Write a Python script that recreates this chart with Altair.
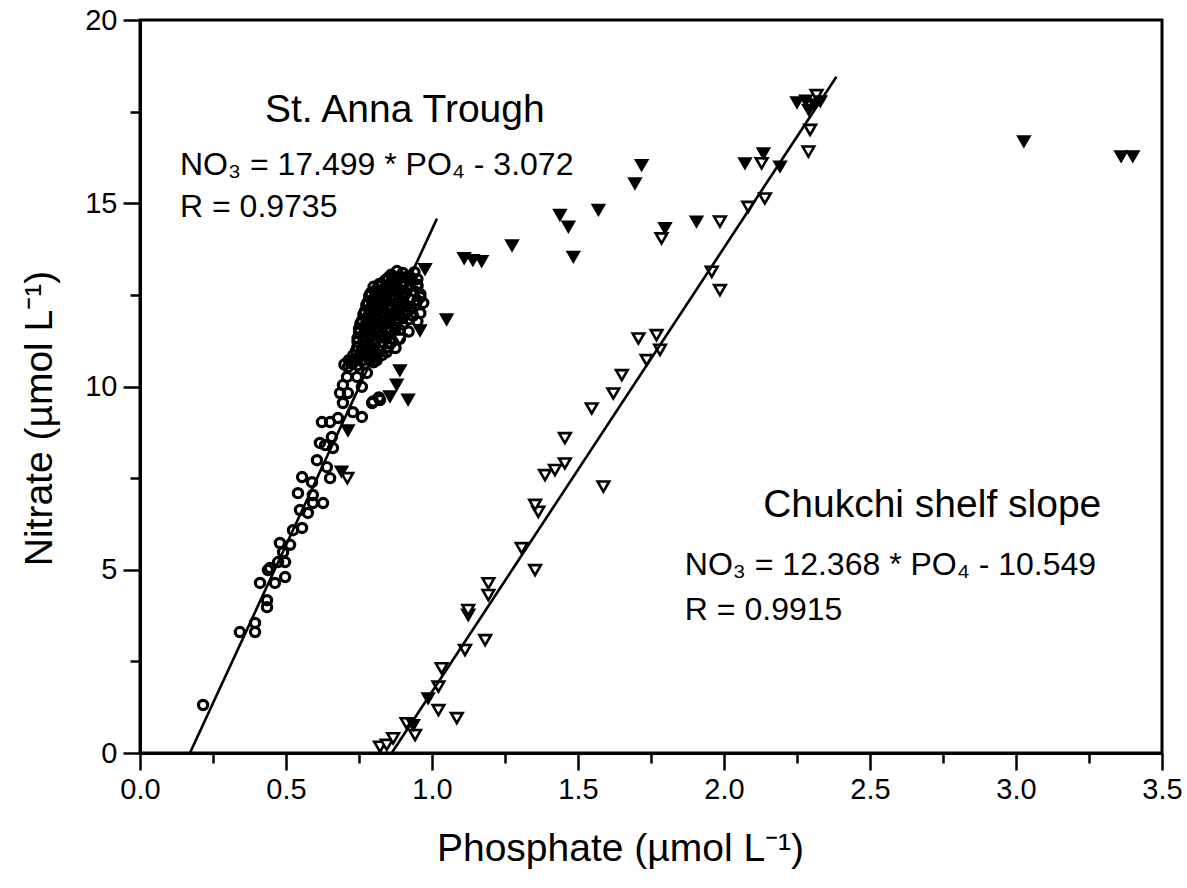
import altair as alt
import pandas as pd

FONT = "Liberation Sans"

# ---------------- data ----------------
# St. Anna Trough (open circles)
anna_x = [0.216, 0.342, 0.394, 0.394, 0.411, 0.435, 0.435, 0.438, 0.462, 0.473,
          0.497, 0.497, 0.479, 0.514, 0.490, 0.524, 0.555, 0.548, 0.575, 0.592,
          0.627, 0.541, 0.592, 0.555, 0.589, 0.606, 0.634, 0.661, 0.640, 0.651,
          0.445, 0.616, 0.657, 0.623, 0.651, 0.678, 0.729, 0.760, 0.795, 0.822,
          0.695, 0.685, 0.712, 0.695, 0.709, 0.743, 0.760, 0.712, 0.777, 0.729,
          0.798, 0.818, 0.925, 0.900]
anna_y = [1.31, 3.30, 3.55, 3.30, 4.64, 4.17, 3.98, 4.99, 4.64, 5.21,
          4.80, 5.21, 5.73, 5.68, 5.48, 6.08, 6.14, 6.63, 6.55, 6.82,
          6.82, 7.09, 7.04, 7.53, 7.39, 7.99, 8.40, 8.32, 7.80, 7.50,
          5.05, 8.46, 8.62, 9.03, 9.03, 9.14, 9.30, 9.17, 9.55, 9.63,
          9.55, 9.82, 9.82, 10.04, 10.26, 10.26, 9.99, 10.53, 10.37, 10.64,
          9.59, 9.70, 12.38, 12.30]
# dense part of the St. Anna Trough cloud
cluster_x = [0.86, 0.88, 0.90, 0.92, 0.94,
             0.82, 0.84, 0.86, 0.88, 0.90, 0.93, 0.95,
             0.79, 0.81, 0.83, 0.85, 0.87, 0.89, 0.91, 0.94, 0.96,
             0.78, 0.80, 0.82, 0.84, 0.86, 0.88, 0.90, 0.95, 0.97,
             0.77, 0.79, 0.81, 0.83, 0.85, 0.87, 0.89, 0.91, 0.93, 0.96,
             0.76, 0.78, 0.80, 0.82, 0.84, 0.86, 0.88, 0.90, 0.92, 0.95,
             0.75, 0.77, 0.79, 0.81, 0.83, 0.85, 0.87, 0.89, 0.92,
             0.745, 0.765, 0.785, 0.805, 0.825, 0.845, 0.865, 0.89,
             0.745, 0.765, 0.785, 0.805, 0.825, 0.85, 0.875,
             0.73, 0.75, 0.77, 0.79, 0.81, 0.83,
             0.70, 0.72, 0.745, 0.77, 0.80,
             0.85, 0.87, 0.89, 0.91, 0.93, 0.95,
             0.80, 0.82, 0.84, 0.86, 0.88, 0.90, 0.92, 0.95,
             0.785, 0.805, 0.825, 0.845, 0.865, 0.885, 0.905, 0.96,
             0.775, 0.795, 0.815, 0.835, 0.855, 0.875, 0.895, 0.915, 0.945,
             0.765, 0.785, 0.805, 0.825, 0.845, 0.865, 0.885, 0.905, 0.935,
             0.755, 0.775, 0.795, 0.815, 0.835, 0.855, 0.875, 0.90,
             0.75, 0.77, 0.79, 0.81, 0.83, 0.85, 0.875,
             0.745, 0.765, 0.785, 0.805, 0.83, 0.86,
             0.74, 0.76, 0.78, 0.80, 0.82, 0.845,
             0.715, 0.735, 0.76, 0.785, 0.81]
cluster_y = [13.05, 13.15, 13.10, 13.00, 13.12,
             12.80, 12.90, 12.85, 12.95, 12.82, 12.88, 12.78,
             12.55, 12.65, 12.60, 12.58, 12.68, 12.62, 12.55, 12.60, 12.52,
             12.30, 12.40, 12.35, 12.32, 12.38, 12.30, 12.42, 12.35, 12.28,
             12.05, 12.12, 12.08, 12.15, 12.10, 12.02, 12.10, 12.06, 12.12, 12.00,
             11.80, 11.88, 11.85, 11.82, 11.90, 11.85, 11.80, 11.87, 11.83, 11.78,
             11.58, 11.62, 11.55, 11.60, 11.65, 11.58, 11.62, 11.55, 11.50,
             11.32, 11.38, 11.35, 11.30, 11.40, 11.35, 11.32, 11.30,
             11.08, 11.12, 11.05, 11.15, 11.10, 11.08, 11.05,
             10.85, 10.82, 10.88, 10.85, 10.80, 10.86,
             10.60, 10.65, 10.58, 10.62, 10.66,
             12.97, 12.99, 12.95, 12.98, 12.96, 12.93,
             12.72, 12.74, 12.70, 12.73, 12.71, 12.75, 12.70, 12.72,
             12.47, 12.49, 12.45, 12.48, 12.46, 12.50, 12.47, 12.44,
             12.22, 12.24, 12.20, 12.23, 12.21, 12.25, 12.22, 12.20, 12.24,
             11.97, 11.99, 11.95, 11.98, 11.96, 12.00, 11.97, 11.95, 11.93,
             11.72, 11.74, 11.70, 11.73, 11.71, 11.75, 11.72, 11.69,
             11.47, 11.49, 11.45, 11.48, 11.46, 11.50, 11.44,
             11.22, 11.24, 11.20, 11.23, 11.21, 11.19,
             10.97, 10.99, 10.95, 10.98, 10.96, 10.94,
             10.72, 10.74, 10.70, 10.73, 10.71]

# filled down-triangles
filled_x = [0.690, 0.712, 0.856, 0.918, 0.879, 0.890, 0.959, 1.050, 0.976, 1.110,
            1.140, 1.170, 1.274, 1.438, 1.467, 1.484, 1.570, 1.695, 1.718, 1.798,
            1.906, 2.072, 2.135, 2.192, 2.250, 2.280, 2.310, 2.290, 2.330, 3.027,
            3.360, 3.400, 0.987, 0.936]
filled_y = [7.68, 8.80, 9.73, 9.64, 10.05, 10.44, 11.53, 11.83, 13.20, 13.50,
            13.45, 13.42, 13.85, 14.68, 14.36, 13.54, 14.82, 15.54, 16.04, 14.32,
            14.50, 16.09, 16.36, 16.00, 17.75, 17.80, 17.70, 17.55, 17.78, 16.69,
            16.28, 16.28, 1.49, 0.76]

# Chukchi shelf slope (open down-triangles)
chuk_x = [0.822, 0.845, 0.867, 0.913, 0.942, 1.022, 1.085, 1.022, 1.033, 1.113,
          1.182, 1.124, 1.124, 1.193, 1.193, 1.353, 1.307, 1.364, 1.353, 1.587,
          1.387, 1.421, 1.455, 1.455, 1.547, 1.621, 1.650, 1.735, 1.781, 1.769,
          1.707, 1.986, 1.958, 1.786, 1.986, 2.083, 2.140, 2.129, 2.289, 2.295,
          2.317, 0.710, 0.890]
chuk_y = [0.17, 0.22, 0.40, 0.81, 0.49, 1.17, 0.95, 1.81, 2.31, 2.81,
          3.08, 3.77, 3.90, 4.31, 4.63, 4.99, 5.59, 6.58, 6.77, 7.27,
          7.58, 7.72, 7.90, 8.59, 9.40, 9.81, 10.31, 10.72, 11.00, 11.40,
          11.31, 12.63, 13.13, 14.04, 14.50, 14.90, 15.13, 16.09, 16.41, 17.00,
          17.95, 7.50, 11.28]

# regression lines (end points as drawn)
fit1_x = [0.171, 1.017]
fit1_y = [0.0, 14.58]
fit2_x = [0.862, 2.385]
fit2_y = [0.0, 18.45]

# annotations
head_text = ["St. Anna Trough", "Chukchi shelf slope"]
head_x = [0.428, 2.134]
head_y = [17.22, 6.44]
eq_text = ["NO\u2083 = 17.499 * PO\u2084 - 3.072", "R = 0.9735",
           "NO\u2083 = 12.368 * PO\u2084 - 10.549", "R = 0.9915"]
eq_x = [0.137, 0.137, 1.866, 1.866]
eq_y = [15.77, 14.62, 4.86, 3.63]

x_tick_values = [0, 0.25, 0.5, 0.75, 1.0, 1.25, 1.5, 1.75, 2.0, 2.25, 2.5, 2.75, 3.0, 3.25, 3.5]
y_tick_values = [0, 2.5, 5, 7.5, 10, 12.5, 15, 17.5, 20]

# ---------------- chart ----------------
df_anna = pd.DataFrame({"PO4": anna_x + cluster_x, "NO3": anna_y + cluster_y})
df_filled = pd.DataFrame({"PO4": filled_x, "NO3": filled_y})
df_chuk = pd.DataFrame({"PO4": chuk_x, "NO3": chuk_y})
df_fit1 = pd.DataFrame({"PO4": fit1_x, "NO3": fit1_y})
df_fit2 = pd.DataFrame({"PO4": fit2_x, "NO3": fit2_y})
df_head = pd.DataFrame({"PO4": head_x, "NO3": head_y, "t": head_text})
df_eq = pd.DataFrame({"PO4": eq_x, "NO3": eq_y, "t": eq_text})

xs = alt.Scale(domain=[0, 3.5], nice=False, zero=False)
ys = alt.Scale(domain=[0, 20], nice=False, zero=False)

xaxis = alt.Axis(
    values=x_tick_values,
    labelExpr="datum.value % 0.5 == 0 ? format(datum.value, '.1f') : ''",
    tickSize={"condition": {"test": "datum.value % 0.5 == 0", "value": 17}, "value": 10},
    title="Phosphate (\u00b5mol L\u207b\u00b9)",
    titleX=480, titleY=95, titleAnchor="start", titleAlign="center", titleBaseline="middle",
    labelPadding=5, labelFlush=False, labelOverlap=False,
    grid=False,
)
yaxis = alt.Axis(
    values=y_tick_values,
    labelExpr="datum.value % 5 == 0 ? format(datum.value, 'd') : ''",
    tickSize={"condition": {"test": "datum.value % 5 == 0", "value": 17}, "value": 10},
    title="Nitrate (\u00b5mol L\u207b\u00b9)",
    titleX=-101, titleY=398, titleAngle=270, titleAlign="center", titleBaseline="middle",
    labelPadding=6, labelFlush=False, labelOverlap=False,
    grid=False,
)

X = alt.X("PO4:Q", scale=xs, axis=xaxis)
Y = alt.Y("NO3:Q", scale=ys, axis=yaxis)

anna = alt.Chart(df_anna).mark_point(shape="circle", filled=False, color="black",
                                     size=85, strokeWidth=3.2, opacity=1).encode(x=X, y=Y)
chuk = alt.Chart(df_chuk).mark_point(shape="triangle-down", filled=True, fill="white",
                                     stroke="black", size=135, strokeWidth=2.6,
                                     opacity=1).encode(x=X, y=Y)
filled = alt.Chart(df_filled).mark_point(shape="triangle-down", filled=True, fill="black",
                                         stroke="black", size=135, strokeWidth=2.2,
                                         opacity=1).encode(x=X, y=Y)
fit1 = alt.Chart(df_fit1).mark_line(color="black", strokeWidth=2.6).encode(x=X, y=Y)
fit2 = alt.Chart(df_fit2).mark_line(color="black", strokeWidth=2.6).encode(x=X, y=Y)
head = alt.Chart(df_head).mark_text(align="left", baseline="alphabetic", font=FONT,
                                    fontSize=39, color="black").encode(x=X, y=Y, text="t:N")
eq = alt.Chart(df_eq).mark_text(align="left", baseline="alphabetic", font=FONT,
                                fontSize=32, color="black").encode(x=X, y=Y, text="t:N")

chart = alt.layer(anna, chuk, filled, fit1, fit2, head, eq).properties(
    width=1022, height=733,
    padding={"left": 140, "top": 20, "right": 25, "bottom": 135},
    autosize=alt.AutoSizeParams(type="none"),
    background="white",
).configure_view(
    stroke="black", strokeWidth=3
).configure_axis(
    domainColor="black", domainWidth=3,
    tickColor="black", tickWidth=2.5,
    labelFont=FONT, labelFontSize=29, labelColor="black",
    titleFont=FONT, titleFontSize=39, titleColor="black", titleFontWeight="normal",
)

chart.save("out.html", embed_options={"renderer": "svg", "actions": False})
